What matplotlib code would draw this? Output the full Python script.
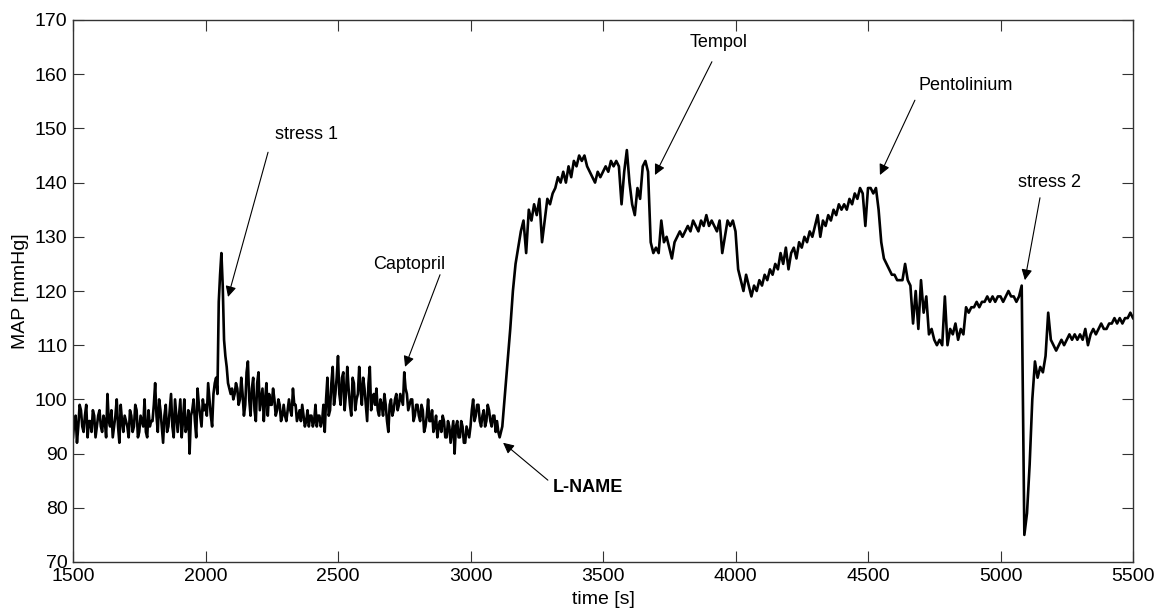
import numpy as np
import matplotlib
matplotlib.use("Agg")
import matplotlib.pyplot as plt

plt.rcParams['font.family'] = ['Liberation Sans', 'DejaVu Sans']

# sampling times (s) and mean arterial pressure (mmHg)
t_start, t_end, t_step = 1500, 5500, 10
map_mmhg = [
    93, 97, 95, 98, 94, 99, 96, 94, 97, 95,          # 1500
    98, 94, 96, 101, 95, 93, 97, 95, 99, 94,         # 1600
    96, 93, 97, 95, 98, 94, 96, 100, 93, 95,         # 1700
    96, 103, 94, 98, 92, 99, 95, 101, 93, 97,        # 1800
    97, 93, 100, 95, 90, 98, 96, 102, 97, 100,       # 1900
    99, 103, 97, 101, 104, 118, 127, 111, 106, 102,  # 2000
    102, 101, 102, 100, 101, 99, 107, 97, 104, 96,   # 2100
    105, 100, 96, 103, 101, 99, 100, 98, 99, 97,     # 2200
    97, 98, 98, 102, 99, 97, 96, 97, 96, 95,         # 2300
    97, 96, 95, 97, 96, 94, 104, 98, 106, 101,       # 2400
    108, 99, 105, 101, 102, 97, 103, 100, 106, 99,   # 2500
    102, 96, 106, 100, 99, 98, 100, 97, 99, 94,      # 2600
    100, 98, 101, 99, 100, 105, 101, 99, 100, 97,    # 2700
    99, 96, 98, 95, 100, 96, 94, 97, 95, 94,         # 2800
    96, 93, 95, 94, 90, 96, 93, 95, 92, 94,          # 2900
    95, 100, 97, 99, 95, 98, 96, 98, 95, 97,         # 3000
    96, 93, 95, 101, 107, 113, 120, 125, 128, 131,   # 3100
    133, 127, 135, 133, 136, 134, 137, 129, 133, 137,  # 3200
    136, 138, 139, 141, 140, 142, 140, 143, 141, 144,  # 3300
    143, 145, 144, 145, 143, 142, 141, 140, 142, 141,  # 3400
    142, 143, 142, 144, 143, 144, 143, 136, 142, 146,  # 3500
    140, 136, 134, 139, 137, 143, 144, 142, 129, 127,  # 3600
    128, 127, 133, 129, 130, 128, 126, 129, 130, 131,  # 3700
    130, 131, 132, 131, 133, 132, 131, 133, 132, 134,  # 3800
    132, 133, 132, 131, 133, 127, 130, 133, 132, 133,  # 3900
    131, 124, 122, 120, 123, 121, 119, 121, 120, 122,  # 4000
    121, 123, 122, 124, 123, 125, 124, 127, 125, 128,  # 4100
    124, 127, 128, 126, 129, 128, 130, 129, 131, 130,  # 4200
    132, 134, 130, 133, 132, 134, 133, 135, 134, 136,  # 4300
    135, 136, 135, 137, 136, 138, 137, 139, 138, 132,  # 4400
    139, 139, 138, 139, 135, 129, 126, 125, 124, 123,  # 4500
    123, 122, 122, 122, 125, 122, 121, 114, 120, 113,  # 4600
    122, 116, 119, 112, 113, 111, 110, 111, 110, 119,  # 4700
    110, 113, 112, 114, 111, 113, 112, 117, 116, 117,  # 4800
    117, 118, 117, 118, 118, 119, 118, 119, 118, 119,  # 4900
    119, 118, 119, 120, 119, 119, 118, 119, 121, 75,   # 5000
    79, 88, 100, 107, 104, 106, 105, 108, 116, 111,    # 5100
    110, 109, 110, 111, 110, 111, 112, 111, 112, 111,  # 5200
    112, 111, 113, 110, 112, 113, 112, 113, 114, 113,  # 5300
    113, 114, 114, 115, 114, 115, 114, 115, 115, 116,  # 5400
    115,                                               # 5500
]
time_s = np.arange(t_start, t_end + 1, t_step)

# extra readings between the 10 s samples in the noisy baseline (1505 ... 3105 s)
mid_start, mid_end = 1505, 3105
map_mid = [
    96, 92, 99, 95, 97, 93, 96, 98, 93, 97,          # 1505
    95, 97, 93, 96, 98, 95, 100, 92, 96, 97,         # 1605
    95, 98, 94, 99, 93, 97, 95, 94, 98, 96,          # 1705
    99, 97, 100, 95, 97, 94, 98, 95, 100, 94,        # 1805
    100, 96, 94, 98, 97, 100, 93, 99, 95, 98,        # 1905
    97, 100, 95, 103, 101, 123, 121, 108, 103, 101,  # 2005
    100, 103, 99, 104, 97, 105, 100, 102, 98, 103,   # 2105
    98, 102, 100, 97, 99, 102, 97, 100, 96, 99,      # 2205
    96, 100, 97, 99, 96, 98, 99, 95, 98, 97,         # 2305
    95, 99, 97, 95, 99, 100, 97, 103, 99, 104,       # 2405
    101, 104, 98, 106, 99, 104, 98, 101, 102, 104,   # 2505
    99, 103, 98, 101, 102, 97, 99, 101, 96, 99,      # 2605
    97, 100, 98, 101, 99, 102, 98, 100, 96, 99,      # 2705
    97, 99, 94, 97, 96, 98, 95, 93, 96, 97,          # 2805
    93, 96, 92, 96, 95, 93, 96, 92, 95, 93,          # 2905
    98, 96, 99, 96, 97, 95, 99, 96, 97, 94,          # 3005
    94,                                              # 3105
]
time_mid = np.arange(mid_start, mid_end + 1, t_step)

# annotations: label, text position (t, MAP), arrow tail and tip (t, MAP), bold
ann_labels = ["stress 1", "Captopril", "L-NAME", "Tempol", "Pentolinium", "stress 2"]
ann_text_t = [2262, 2632, 3311, 3828, 4689, 5066]
ann_text_v = [148.8, 124.8, 83.8, 165.8, 158.0, 140.1]
ann_tail_t = [2236, 2885, 3292, 3911, 4677, 5149]
ann_tail_v = [145.6, 123.0, 85.1, 162.3, 155.2, 137.2]
ann_tip_t = [2085, 2753, 3123, 3696, 4545, 5092]
ann_tip_v = [118.9, 106.0, 92.0, 141.4, 141.4, 122.0]
ann_bold = [False, False, True, False, False, False]

x_ticks = [1500, 2000, 2500, 3000, 3500, 4000, 4500, 5000, 5500]
y_ticks = [70, 80, 90, 100, 110, 120, 130, 140, 150, 160, 170]

# merge the two sets of readings in time order
t_all = np.concatenate([time_s, time_mid])
v_all = np.concatenate([np.asarray(map_mmhg, float), np.asarray(map_mid, float)])
order = np.argsort(t_all, kind='stable')
t_all, v_all = t_all[order], v_all[order]

fig = plt.figure(figsize=(11.56, 6.09), dpi=100)
ax = fig.add_axes([73 / 1156, 1 - 562 / 609, 1060 / 1156, 542 / 609])

ax.plot(t_all, v_all, color='black', lw=1.9)

ax.set_xlim(1500, 5500)
ax.set_ylim(70, 170)
ax.set_xticks(x_ticks)
ax.set_yticks(y_ticks)
ax.tick_params(direction='in', length=8, width=0.8, colors='#333333',
               labelcolor='black', labelsize=14, top=True, right=True,
               labeltop=False, labelright=False)
ax.tick_params(axis='y', pad=4)
ax.tick_params(axis='x', pad=4)
for sp in ax.spines.values():
    sp.set_color('#333333')
    sp.set_linewidth(1.0)

ax.set_xlabel('time [s]', fontsize=14, labelpad=5)
ax.set_ylabel('MAP [mmHg]', fontsize=14, labelpad=4)

for lab, tx, tv, ltx, ltv, px, pv, b in zip(ann_labels, ann_text_t, ann_text_v,
                                             ann_tail_t, ann_tail_v,
                                             ann_tip_t, ann_tip_v, ann_bold):
    ax.annotate('', xy=(px, pv), xytext=(ltx, ltv),
                arrowprops=dict(arrowstyle='-|>', color='black', lw=0.8,
                                mutation_scale=16, shrinkA=0, shrinkB=0))
    ax.text(tx, tv, lab, fontsize=13, va='center', ha='left',
            fontweight='bold' if b else 'normal')

fig.savefig('out.png', dpi=100)
